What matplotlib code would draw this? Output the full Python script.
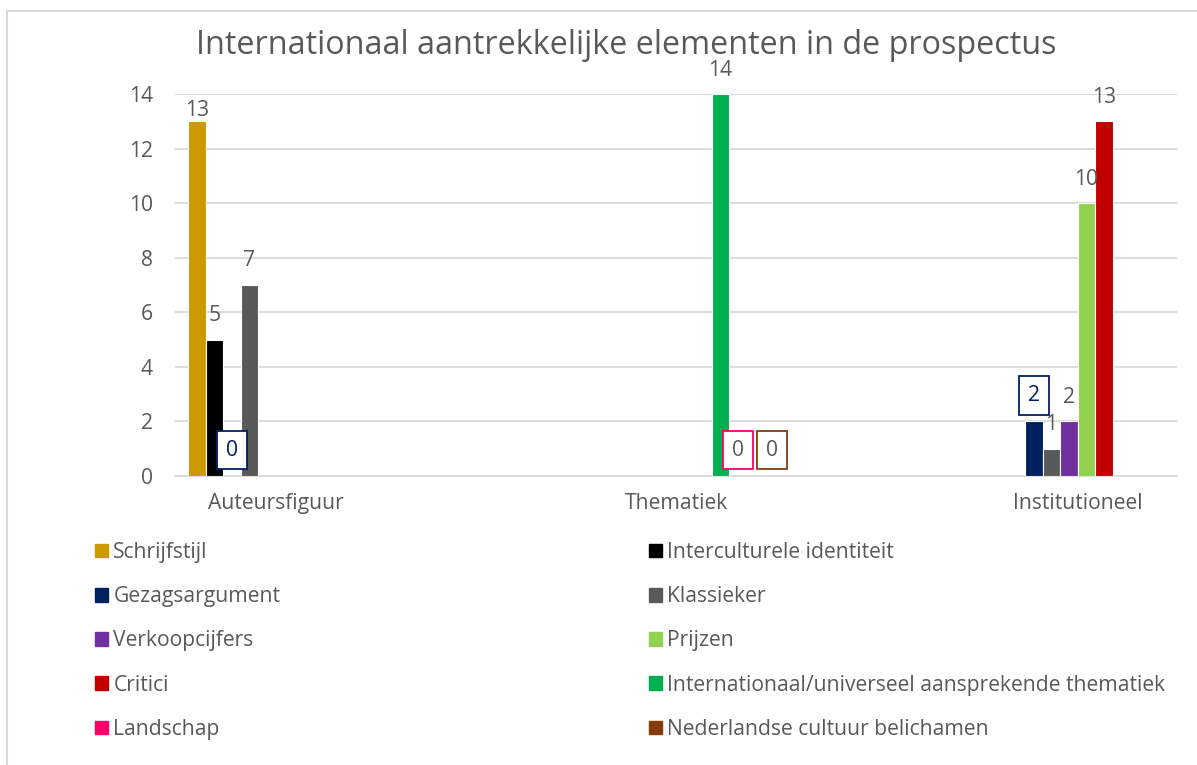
import numpy as np
import matplotlib
matplotlib.use("Agg")
import matplotlib.pyplot as plt
from matplotlib.patches import Patch

plt.rcParams["font.family"] = ["Open Sans", "DejaVu Sans"]

TITLE = "Internationaal aantrekkelijke elementen in de prospectus"
CATEGORIES = ["Auteursfiguur", "Thematiek", "Institutioneel"]
SERIES = [
    "Schrijfstijl",
    "Interculturele identiteit",
    "Gezagsargument",
    "Klassieker",
    "Verkoopcijfers",
    "Prijzen",
    "Critici",
    "Internationaal/universeel aansprekende thematiek",
    "Landschap",
    "Nederlandse cultuur belichamen",
]
COLORS = ["#CC9900", "#000000", "#002060", "#595959", "#7030A0",
          "#92D050", "#C00000", "#00B050", "#FF0066", "#843C0C"]
nan = np.nan
# rows = series, columns = categories (NaN = no value in that category)
VALUES = [
    [13, nan, nan],
    [5, nan, nan],
    [0, nan, 2],
    [7, nan, 1],
    [nan, nan, 2],
    [nan, nan, 10],
    [nan, nan, 13],
    [nan, 14, nan],
    [nan, 0, nan],
    [nan, 0, nan],
]
Y_TICKS = [0, 2, 4, 6, 8, 10, 12, 14]

TEXT = "#595959"
GRID = "#D9D9D9"
FS = 15.2

# labels that carry a coloured frame, and hand-moved labels (pixels)
BOXED = {(2, 0): ("#002060", "#002060"), (2, 2): ("#002060", "#002060"),
         (8, 1): ("#FF0066", TEXT), (9, 1): ("#843C0C", TEXT)}
NUDGE = {(0, 0): (0, 11), (9, 1): (17, 26)}

W, H = 1197, 765
fig = plt.figure(figsize=(W / 100, H / 100), dpi=100)
ax = fig.add_axes([175 / W, 1 - 476 / H, (1177 - 175) / W, (476 - 94) / H])

slot = 17.5 / 401
n = len(SERIES)
x = np.arange(len(CATEGORIES))
for i, (name, vals, col) in enumerate(zip(SERIES, VALUES, COLORS)):
    xs = x + (i - (n - 1) / 2) * slot
    ax.bar(xs, vals, width=slot, color=col, edgecolor="white", linewidth=0.8, zorder=3)
    for j, v in enumerate(vals):
        if np.isnan(v):
            continue
        dx, dy = NUDGE.get((i, j), (0, 24))
        kw = dict(color=TEXT)
        if (i, j) in BOXED:
            ec, tc = BOXED[(i, j)]
            kw = dict(color=tc, bbox=dict(boxstyle="square,pad=0.42", fc="white",
                                          ec=ec, lw=1.3))
            dy = 26
            if (i, j) in NUDGE:
                dx = NUDGE[(i, j)][0]
        ax.annotate(f"{int(v)}", (xs[j], v), xytext=(dx, dy),
                    textcoords="offset pixels", ha="center", va="center",
                    fontsize=FS, zorder=5, annotation_clip=False, **kw)

ax.set_xlim((175 - 275.5) / 401, (1177 - 275.5) / 401)
ax.set_ylim(0, 14)
ax.set_yticks(Y_TICKS)
ax.set_xticks(x)
ax.set_xticklabels(CATEGORIES)
ax.tick_params(axis="both", length=0, labelsize=FS, labelcolor=TEXT)
ax.tick_params(axis="y", pad=16)
ax.tick_params(axis="x", pad=12)
ax.grid(axis="y", color=GRID, lw=1.3, zorder=0)
for s in ax.spines.values():
    s.set_visible(False)
ax.spines["bottom"].set_visible(True)
ax.spines["bottom"].set_color(GRID)
ax.spines["bottom"].set_linewidth(1.3)

fig.text(626.5 / W, 1 - 46 / H, TITLE, ha="center", va="center",
         fontsize=23.3, color=TEXT)

handles = [Patch(color=c, label=s) for s, c in zip(SERIES, COLORS)]
for k, xpos in ((0, 95), (1, 649)):
    fig.legend(handles=handles[k::2], loc="upper left",
               bbox_to_anchor=(xpos / W, 1 - 542 / H), frameon=False,
               fontsize=FS, labelcolor=TEXT, handlelength=0.62, handleheight=0.62,
               handletextpad=0.25, labelspacing=1.1, borderpad=0, borderaxespad=0)

# chart border (top and left edges are the visible part)
fig.add_artist(plt.Line2D([7 / W, 7 / W], [0, 1 - 11 / H], color=GRID, lw=1.5))
fig.add_artist(plt.Line2D([7 / W, 1], [1 - 11 / H, 1 - 11 / H], color=GRID, lw=1.5))

fig.savefig("out.png", dpi=100)
